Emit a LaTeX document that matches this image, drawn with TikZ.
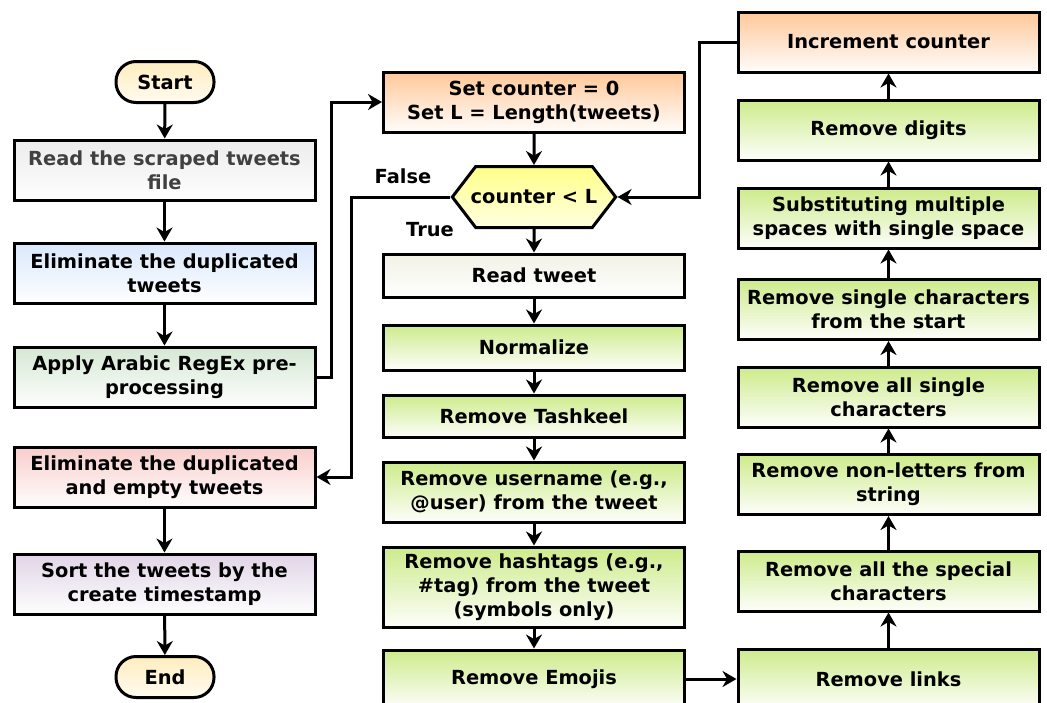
\documentclass[tikz,border=0pt]{standalone}
\usepackage{fontspec}
\setmainfont{DejaVu Sans}
\usetikzlibrary{arrows.meta,shapes.symbols}
\definecolor{pillTop}{HTML}{FFEDBF}
\definecolor{pillBot}{HTML}{FFFBEF}
\definecolor{grayTop}{HTML}{ECECEC}
\definecolor{blueTop}{HTML}{DAE8FC}
\definecolor{mintTop}{HTML}{D5E8D4}
\definecolor{redTop}{HTML}{F8CECC}
\definecolor{purpTop}{HTML}{E1D5E7}
\definecolor{orngTop}{HTML}{FFC899}
\definecolor{yellTop}{HTML}{FFFF88}
\definecolor{beigeTop}{HTML}{F2F2E6}
\definecolor{limeTop}{HTML}{CDEB8B}
\definecolor{txtgray}{HTML}{404040}
\tikzset{
  box/.style={draw,line width=3pt,minimum width=301pt,minimum height=60pt,
    align=center,inner sep=2pt,bottom color=white!96!#1,top color=#1},
  pill/.style={draw,line width=3pt,rounded corners=20pt,minimum width=98pt,
    minimum height=41pt,top color=pillTop,bottom color=pillBot},
  decision/.style={draw,line width=3pt,signal,signal to=east and west,
    signal pointer angle=105,inner xsep=-5pt,minimum height=61pt,
    top color=yellTop,bottom color=yellTop!25},
  link/.style={line width=3pt}
}
\begin{document}
\begin{tikzpicture}[x=1pt,y=-1pt,>={Stealth[length=14pt,width=16pt]},
  font=\fontsize{19.4}{24}\selectfont\bfseries]
\useasboundingbox (0,0) rectangle (1047,702);
% left column
\node[pill] (start) at (165,82) {Start};
\node[box=grayTop,text=txtgray] (read) at (164.5,170) {Read the scraped tweets\\file};
\node[box=blueTop] (elim) at (164.5,273) {Eliminate the duplicated\\tweets};
\node[box=mintTop] (regex) at (164.5,377) {Apply Arabic RegEx pre-\\processing};
\node[box=redTop] (elimempty) at (164.5,477) {Eliminate the duplicated\\and empty tweets};
\node[box=purpTop] (sort) at (164.5,584) {Sort the tweets by the\\create timestamp};
\node[pill] (stop) at (165,677) {End};
% middle column
\node[box=orngTop] (setc) at (534,102) {Set counter = 0\\Set L = Length(tweets)};
\node[decision] (cond) at (534,197) {counter < L};
\node[box=beigeTop,minimum height=43pt] (readtw) at (534,275.5) {Read tweet};
\node[box=limeTop,minimum height=45pt] (norm) at (534,347.5) {Normalize};
\node[box=limeTop,minimum height=42pt] (tashkeel) at (534,416) {Remove Tashkeel};
\node[box=limeTop] (user) at (534,492) {Remove username (e.g.,\\@user) from the tweet};
\node[box=limeTop,minimum height=80pt] (hashtag) at (534,587) {Remove hashtags (e.g.,\\\#tag) from the tweet\\(symbols only)};
\node[box=limeTop,minimum height=58pt] (emoji) at (534,679) {Remove Emojis};
% right column
\node[box=orngTop] (incr) at (888.5,42) {Increment counter};
\node[box=limeTop] (digits) at (888.5,130) {Remove digits};
\node[box=limeTop] (spaces) at (888.5,218) {Substituting multiple\\spaces with single space};
\node[box=limeTop] (startsingle) at (888.5,309.5) {Remove single characters\\from the start};
\node[box=limeTop] (allsingle) at (888.5,397) {Remove all single\\characters};
\node[box=limeTop] (nonlet) at (888.5,484.5) {Remove non-letters from\\string};
\node[box=limeTop] (special) at (888.5,581) {Remove all the special\\characters};
\node[box=limeTop] (links) at (888.5,679) {Remove links};
% labels
\node (lblfalse) at (403,176) {False};
\node (lbltrue) at (430,230) {True};
%===========================================
\foreach \a/\b in {start/read,read/elim,elim/regex,elimempty/sort,sort/stop,
  setc/cond,cond/readtw,readtw/norm,norm/tashkeel,tashkeel/user,user/hashtag,
  hashtag/emoji,emoji/links,links/special,special/nonlet,nonlet/allsingle,
  allsingle/startsingle,startsingle/spaces,spaces/digits,digits/incr}
  \draw[link,->] (\a) -- (\b);
\draw[link,->] (regex.east) -- ++(15,0) |- (setc.west);
\draw[link,->] (cond.west) -- ++(-99,0) |- (elimempty.east);
\draw[link,->] (incr.west) -- ++(-37,0) |- (cond.east);
\end{tikzpicture}
\end{document}
